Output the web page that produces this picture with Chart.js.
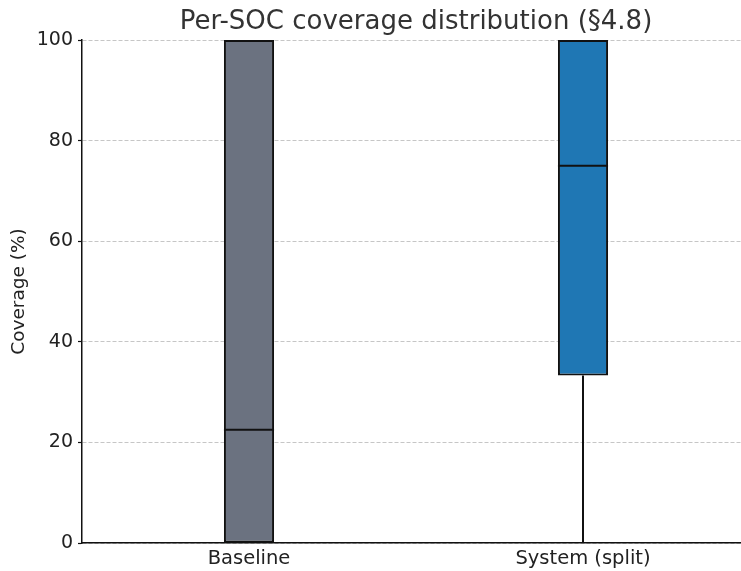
<!DOCTYPE html>
<html>
<head>
<meta charset="utf-8">
<script src="https://cdn.jsdelivr.net/npm/chart.js@4"></script>
<style>
  html, body { margin: 0; padding: 0; background: #fff; overflow: hidden; }
  #wrap { width: 750px; height: 571px; }
</style>
</head>
<body>
<div id="wrap"><canvas id="boxChart" width="750" height="571"></canvas></div>
<script>
// Box plot statistics
const categories = ["Baseline", "System (split)"];
const mins    = [0, 0];
const q1      = [0, 33.3];
const medians = [22.5, 75];
const q3      = [100, 100];
const maxs    = [100, 100];
const yTicks  = [0, 20, 40, 60, 80, 100];

const fills = ["#6b7280", "#1f77b4"];
const font = "'DejaVu Sans', sans-serif";

const ctx = document.getElementById("boxChart").getContext("2d");

new Chart(ctx, {
    type: "bar",
    data: {
        labels: categories,
        datasets: [{
            data: categories.map(function(c, i) { return [q1[i], q3[i]]; }),
            backgroundColor: fills,
            borderColor: "#111",
            borderWidth: 2,
            borderSkipped: false,
            barPercentage: 0.15,
            categoryPercentage: 1.0
        }]
    },
    options: {
        responsive: false,
        animation: false,
        layout: { padding: 0 },
        scales: {
            x: {
                type: "category",
                offset: true,
                grid: { display: false, drawTicks: false },
                border: { display: true, color: "#111", width: 1.5 },
                ticks: { color: "#222", font: { family: font, size: 19.5 }, padding: 4 },
                afterFit: function(scale) { scale.height = 28; }
            },
            y: {
                min: 0,
                max: 100,
                afterBuildTicks: function(scale) {
                    scale.ticks = yTicks.map(function(v) { return { value: v }; });
                },
                grid: {
                    color: "#c6c6c6",
                    lineWidth: 1,
                    drawTicks: true,
                    tickLength: 4,
                    tickColor: "#111",
                    tickWidth: 1.2,
                    tickBorderDash: []
                },
                border: { display: true, color: "#111", width: 1.5, dash: [4, 2] },
                ticks: { color: "#222", font: { family: font, size: 19 }, padding: 5 },
                title: {
                    display: true,
                    text: "Coverage (%)",
                    color: "#222",
                    font: { family: font, size: 18.5 },
                    padding: { top: 8.5, bottom: 2 }
                },
                afterFit: function(scale) { scale.width = 82; }
            }
        },
        plugins: {
            legend: { display: false },
            tooltip: { enabled: false },
            title: {
                display: true,
                fullSize: false,
                text: "Per-SOC coverage distribution (§4.8)",
                color: "#333",
                font: { family: font, size: 26, weight: "normal" },
                padding: { top: 6.5, bottom: 2.3 }
            }
        }
    },
    plugins: [{
        id: "boxExtras",
        afterDatasetsDraw: function(chart) {
            const xs = chart.scales.x;
            const ys = chart.scales.y;
            const meta = chart.getDatasetMeta(0);
            const c = chart.ctx;
            c.save();
            c.strokeStyle = "#111";
            c.lineWidth = 2;
            meta.data.forEach(function(bar, i) {
                const cx = xs.getPixelForValue(i);
                const half = bar.width / 2;
                // whiskers
                [[q1[i], mins[i]], [q3[i], maxs[i]]].forEach(function(seg) {
                    if (seg[0] === seg[1]) return;
                    c.beginPath();
                    c.moveTo(cx, ys.getPixelForValue(seg[0]));
                    c.lineTo(cx, ys.getPixelForValue(seg[1]));
                    c.stroke();
                });
                // median line
                const my = ys.getPixelForValue(medians[i]);
                c.beginPath();
                c.moveTo(cx - half, my);
                c.lineTo(cx + half, my);
                c.stroke();
            });
            c.restore();
        }
    }]
});
</script>
</body>
</html>
